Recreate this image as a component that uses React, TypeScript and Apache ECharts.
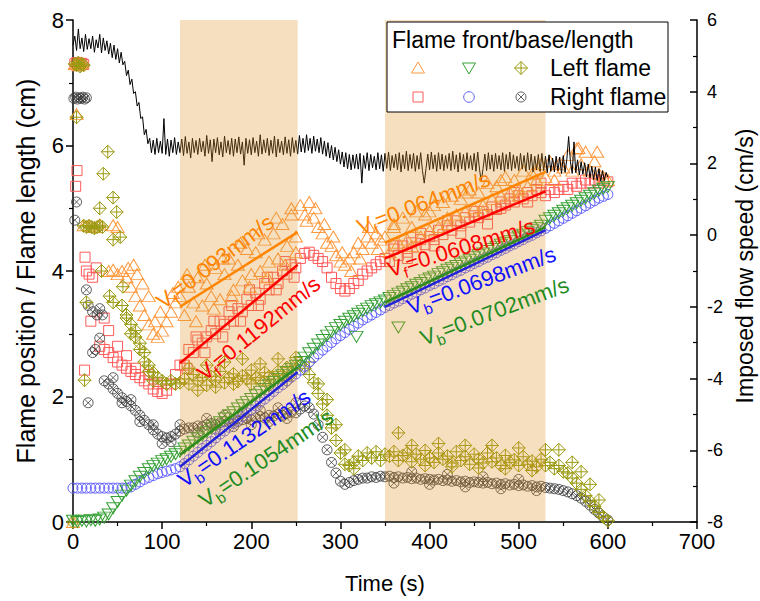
import { useEffect, useRef } from 'react';
import * as echarts from 'echarts';

const FONT = 'Arial, "Liberation Sans", Helvetica, sans-serif';

// ---------- axis settings ----------
const xTicks = { min: 0, max: 700, interval: 100 };
const yLeft = { min: 0, max: 8, interval: 2 };
const yRight = { min: -8, max: 6, interval: 2 };

// ---------- shaded fitting windows (s) ----------
const shadeWindows: [number, number][] = [[120, 252], [350, 530]];

// ---------- Left flame base (green, t = 0..600 step 5) ----------
const leftBaseY = [
  0.02, 0.0, 0.02, 0.01, 0.03, 0.02, 0.04, 0.07, 0.12, 0.22,
  0.32, 0.42, 0.5, 0.58, 0.65, 0.72, 0.78, 0.84, 0.89, 0.93,
  0.97, 1.0, 1.04, 1.08, 1.12, 1.17, 1.22, 1.28, 1.33, 1.38,
  1.43, 1.49, 1.54, 1.59, 1.65, 1.7, 1.75, 1.81, 1.86, 1.91,
  1.96, 2.02, 2.07, 2.12, 2.18, 2.23, 2.28, 2.34, 2.39, 2.44,
  2.49, 2.55, 2.62, 2.69, 2.76, 2.83, 2.9, 2.97, 3.03, 3.09,
  3.14, 3.19, 3.24, 3.28, 3.32, 3.36, 3.4, 3.44, 3.47, 3.5,
  3.53, 3.57, 3.6, 3.64, 3.67, 3.71, 3.74, 3.78, 3.81, 3.85,
  3.88, 3.91, 3.95, 3.98, 4.02, 4.05, 4.08, 4.12, 4.15, 4.18,
  4.22, 4.25, 4.28, 4.32, 4.35, 4.38, 4.42, 4.45, 4.48, 4.52,
  4.55, 4.58, 4.62, 4.65, 4.68, 4.72, 4.8, 4.84, 4.88, 4.92,
  4.96, 5.0, 5.04, 5.08, 5.12, 5.16, 5.2, 5.24, 5.28, 5.31,
  5.34,
];
const leftBaseExtra: [number, number][] = [[318, 2.95], [365, 3.1]];

// ---------- Right flame base (blue, t = 0..600 step 5) ----------
const rightBaseY = [
  0.54, 0.54, 0.54, 0.54, 0.54, 0.54, 0.54, 0.54, 0.54, 0.54,
  0.54, 0.54, 0.54, 0.56, 0.6, 0.64, 0.68, 0.71, 0.74, 0.77,
  0.79, 0.81, 0.83, 0.85, 0.88, 0.93, 0.99, 1.05, 1.11, 1.17,
  1.22, 1.28, 1.34, 1.4, 1.45, 1.51, 1.57, 1.62, 1.68, 1.74,
  1.79, 1.85, 1.91, 1.96, 2.02, 2.08, 2.14, 2.19, 2.25, 2.31,
  2.36, 2.42, 2.48, 2.55, 2.62, 2.68, 2.74, 2.8, 2.86, 2.92,
  2.97, 3.02, 3.07, 3.12, 3.17, 3.22, 3.26, 3.3, 3.34, 3.38,
  3.42, 3.45, 3.49, 3.52, 3.56, 3.59, 3.63, 3.66, 3.7, 3.73,
  3.77, 3.8, 3.84, 3.87, 3.91, 3.94, 3.98, 4.01, 4.05, 4.08,
  4.12, 4.15, 4.19, 4.22, 4.26, 4.29, 4.33, 4.36, 4.4, 4.43,
  4.47, 4.5, 4.54, 4.57, 4.61, 4.64, 4.68, 4.72, 4.76, 4.8,
  4.84, 4.88, 4.92, 4.96, 5.0, 5.04, 5.08, 5.12, 5.16, 5.19,
  5.22,
];

// ---------- Right flame length (dark, t = 35..600 step 5) ----------
const rightLenY = [
  2.25, 2.2, 2.12, 2.05, 1.98, 1.92, 1.85, 1.78, 1.7, 1.62,
  1.55, 1.47, 1.4, 1.36, 1.34, 1.36, 1.4, 1.45, 1.48, 1.5,
  1.5, 1.53, 1.52, 1.55, 1.57, 1.55, 1.58, 1.6, 1.59, 1.62,
  1.6, 1.63, 1.65, 1.63, 1.66, 1.68, 1.66, 1.7, 1.69, 1.72,
  1.7, 1.73, 1.75, 1.74, 1.8, 1.85, 1.82, 1.72, 1.55, 1.35,
  1.15, 0.95, 0.78, 0.65, 0.6, 0.63, 0.66, 0.68, 0.7, 0.7,
  0.72, 0.71, 0.73, 0.72, 0.73, 0.71, 0.72, 0.7, 0.71, 0.69,
  0.7, 0.68, 0.69, 0.68, 0.67, 0.68, 0.66, 0.67, 0.65, 0.66,
  0.64, 0.65, 0.63, 0.64, 0.63, 0.62, 0.63, 0.61, 0.62, 0.6,
  0.61, 0.59, 0.6, 0.58, 0.59, 0.57, 0.58, 0.56, 0.57, 0.55,
  0.54, 0.53, 0.52, 0.5, 0.48, 0.45, 0.42, 0.38, 0.33, 0.27,
  0.2, 0.14, 0.08, 0.03,
];
const rightLenExtra: [number, number][] = [
  [1, 6.75], [3, 6.77], [5, 6.74], [7, 6.76], [9, 6.75], [11, 6.77], [13, 6.74], [15, 6.76],
  [4, 5.1], [2, 4.81], [15, 3.7], [17, 3.45], [22, 3.35], [27, 3.3], [30, 2.93], [22, 2.7],
  [17, 1.9], [30, 3.4], [33, 3.3], [25, 2.75],
  [45, 2.3], [55, 1.9], [65, 1.95], [75, 1.6], [90, 1.55], [100, 1.25], [110, 1.28], [120, 1.55],
  [140, 1.42], [150, 1.65], [160, 1.48], [170, 1.7], [180, 1.52], [190, 1.75], [200, 1.55],
  [210, 1.78], [220, 1.6], [230, 1.82], [240, 1.65], [250, 1.9],
  [360, 0.62], [380, 0.8], [400, 0.6], [420, 0.76], [440, 0.56], [460, 0.72], [480, 0.53],
  [500, 0.68], [520, 0.5],
];

// ---------- Right flame front (red, t = 30..600 step 5) ----------
const rightFrontY = [
  2.8, 2.75, 2.7, 2.62, 2.55, 2.5, 2.45, 2.4, 2.35, 2.3,
  2.25, 2.2, 2.12, 2.08, 2.05, 2.1, 2.2, 2.35, 2.5, 2.5,
  2.75, 2.7, 2.9, 2.85, 2.95, 3.05, 3.0, 3.2, 3.15, 3.35,
  3.2, 3.4, 3.35, 3.55, 3.45, 3.65, 3.55, 3.8, 3.7, 3.9,
  3.8, 4.0, 3.95, 4.1, 4.05, 4.2, 4.28, 4.3, 4.25, 4.2,
  4.15, 4.05, 3.9, 3.8, 3.72, 3.68, 3.72, 3.8, 3.85, 3.95,
  4.0, 4.05, 4.1, 4.15, 4.2, 4.15, 4.35, 4.25, 4.4, 4.3,
  4.45, 4.38, 4.5, 4.42, 4.55, 4.5, 4.65, 4.58, 4.72, 4.65,
  4.8, 4.72, 4.85, 4.78, 4.88, 4.85, 4.95, 4.9, 5.02, 4.98,
  5.1, 5.05, 5.15, 5.1, 5.2, 5.15, 5.25, 5.2, 5.3, 5.25,
  5.2, 5.3, 5.25, 5.3, 5.35, 5.3, 5.4, 5.35, 5.4, 5.45,
  5.4, 5.45, 5.4, 5.45, 5.42,
];
const rightFrontExtra: [number, number][] = [
  [2, 7.3], [4, 7.32], [6, 7.28], [8, 7.3], [10, 7.31], [12, 7.29], [3, 5.35], [4.5, 5.6],
  [13.5, 4.22], [15, 4.0], [18, 3.95], [22, 3.9], [26, 4.05], [20, 3.2], [35, 3.25], [13, 2.42],
  [40, 3.05], [50, 2.8], [60, 2.65], [70, 2.45], [85, 2.35], [95, 2.2],
  [128, 2.45], [138, 2.95], [148, 2.7], [158, 3.2], [168, 2.95], [178, 3.45], [188, 3.2],
  [198, 3.7], [208, 3.45], [218, 3.9], [228, 3.7], [238, 4.15], [248, 3.9],
  [360, 4.4], [375, 4.2], [390, 4.6], [405, 4.4], [420, 4.8], [435, 4.6], [450, 4.95],
  [465, 4.75], [480, 5.0], [495, 5.25], [510, 5.1], [525, 5.4],
];

// ---------- Left flame length (olive, t = 55..600 step 5) ----------
const leftLenY = [
  3.45, 3.3, 3.15, 3.05, 2.85, 2.7, 2.5, 2.38, 2.3, 2.25,
  2.2, 2.25, 2.2, 2.22, 2.28, 2.2, 2.35, 2.25, 2.3, 2.18,
  2.32, 2.26, 2.4, 2.22, 2.3, 2.36, 2.24, 2.33, 2.28, 2.42,
  2.3, 2.26, 2.38, 2.32, 2.28, 2.4, 2.34, 2.46, 2.36, 2.5,
  2.5, 2.45, 2.35, 2.22, 2.05, 1.88, 1.7, 1.5, 1.3, 1.1,
  0.92, 0.9, 0.95, 1.05, 0.98, 1.1, 1.02, 1.12, 0.98, 1.08,
  1.05, 1.12, 0.98, 1.06, 1.1, 0.96, 1.08, 1.0, 1.14, 1.02,
  0.95, 1.1, 1.0, 1.05, 0.94, 1.12, 0.98, 1.04, 0.92, 1.08,
  1.0, 0.94, 1.1, 0.96, 1.02, 0.9, 1.06, 0.95, 0.99, 0.9,
  1.04, 0.92, 0.97, 0.88, 1.0, 0.9, 0.95, 0.85, 0.9, 0.8,
  0.78, 0.7, 0.62, 0.52, 0.42, 0.33, 0.25, 0.15, 0.08, 0.02,
];
const leftLenExtra: [number, number][] = [
  [0, 0], [2, 7.3], [4, 7.28], [6, 7.32], [8, 7.26], [10, 7.3], [12, 7.28], [4, 6.45],
  [39, 5.9], [34, 5.55], [45, 5.17], [30, 5.0], [49, 4.94], [12, 4.72], [15, 4.7], [18, 4.72],
  [21, 4.7], [24, 4.68], [27, 4.7], [30, 4.72], [33, 4.7], [45, 4.5], [53, 4.54], [32, 4.0],
  [15, 3.5], [41, 3.6], [56, 3.75], [13, 2.26], [45, 3.5], [60, 3.25], [65, 3.0], [70, 2.95],
  [75, 2.75], [80, 2.55], [85, 2.4], [90, 2.25],
  [130, 2.45], [140, 2.1], [150, 2.5], [160, 2.15], [170, 2.55], [180, 2.2], [190, 2.6],
  [200, 2.2], [210, 2.52], [220, 2.18], [230, 2.6], [240, 2.25], [250, 2.62],
  [265, 2.55], [275, 2.2], [285, 1.95], [295, 1.55], [305, 1.15], [315, 0.85],
  [365, 1.42], [380, 1.22], [395, 0.9], [410, 1.25], [425, 0.88], [440, 1.22], [455, 0.86],
  [470, 1.22], [485, 0.85], [500, 1.18], [515, 0.82], [530, 1.15], [545, 1.15], [560, 0.95],
  [570, 0.8], [580, 0.6], [590, 0.35],
];

// ---------- Left flame front (orange, t = 55..600 step 5) ----------
const leftFrontY = [
  4.0, 3.9, 3.75, 3.6, 3.45, 3.3, 3.15, 3.0, 2.95, 3.05,
  3.2, 3.35, 3.5, 3.6, 3.3, 3.75, 3.5, 3.9, 3.45, 3.8,
  3.6, 4.05, 3.55, 3.95, 4.2, 3.7, 4.1, 3.85, 4.35, 3.95,
  4.3, 4.0, 4.5, 4.15, 4.6, 4.2, 4.75, 4.4, 4.9, 4.55,
  5.05, 4.9, 5.1, 4.85, 4.7, 4.6, 4.45, 4.4, 4.25, 4.15,
  4.1, 4.2, 4.3, 4.45, 4.35, 4.55, 4.45, 4.6, 4.5, 4.55,
  4.3, 4.75, 4.45, 4.85, 4.5, 4.7, 4.95, 4.55, 4.9, 4.65,
  5.05, 4.7, 5.1, 4.85, 5.2, 4.9, 5.15, 4.95, 5.3, 5.0,
  5.25, 5.05, 5.4, 5.15, 5.35, 5.2, 5.5, 5.25, 5.45, 5.3,
  5.6, 5.35, 5.55, 5.45, 5.7, 5.5, 5.75, 5.6, 5.7, 5.65,
  5.85, 5.6, 5.95, 5.7, 5.9, 5.6, 5.75, 5.55, 5.5, 5.45,
];
const leftFrontExtra: [number, number][] = [
  [0, 0], [2, 7.3], [4, 7.3], [6, 7.28], [8, 7.3], [10, 7.32], [4, 6.5], [12, 4.73], [18, 4.72],
  [24, 4.7], [30, 4.74], [45, 4.73], [50, 4.7], [40, 4.0], [45, 4.02], [50, 3.95], [62, 4.05],
  [68, 4.1], [72, 3.95], [78, 3.8], [85, 3.6], [92, 3.2], [98, 3.35], [112, 3.65], [118, 3.75],
  [128, 3.95], [138, 3.2], [148, 4.1], [158, 3.4], [168, 4.2], [178, 3.6], [188, 4.45],
  [198, 3.75], [208, 4.6], [218, 3.9], [228, 4.85], [238, 4.1], [245, 5.0], [250, 4.3],
  [262, 4.8], [272, 5.0], [282, 4.75], [292, 4.55], [302, 4.3], [312, 4.0], [322, 4.2],
  [332, 4.7], [342, 4.35], [360, 4.7], [380, 4.4], [400, 4.95], [420, 4.75], [440, 5.25],
  [460, 4.95], [480, 5.45], [500, 5.2], [520, 5.6], [540, 5.45], [567, 5.96], [588, 5.9],
];

// ---------- Imposed flow speed (cm/s, right axis, t = 0..600 step 2) ----------
const flowY = [
  5.3, 5.55, 5.15, 5.75, 5.2, 5.5, 5.12, 5.6, 5.18, 5.48,
  5.2, 5.55, 5.1, 5.45, 5.22, 5.6, 5.08, 5.5, 5.15, 5.42,
  5.05, 5.35, 4.95, 5.3, 4.9, 5.2, 4.8, 5.1, 4.75, 4.85,
  4.45, 4.6, 4.2, 4.35, 3.95, 4.0, 3.6, 3.7, 3.25, 3.3,
  2.8, 2.95, 2.55, 2.7, 2.3, 2.65, 2.25, 2.7, 2.3, 2.62,
  2.28, 3.25, 2.25, 2.68, 2.2, 2.65, 2.3, 2.72, 2.25, 2.6,
  2.3, 2.68, 2.22, 2.75, 2.28, 2.6, 2.15, 2.7, 2.3, 2.64,
  2.25, 2.7, 2.32, 2.62, 2.2, 2.78, 2.28, 2.66, 2.05, 2.68,
  2.3, 2.72, 2.24, 2.6, 2.18, 2.76, 2.3, 2.64, 2.25, 2.7,
  2.2, 2.68, 2.3, 2.74, 2.26, 2.6, 1.95, 2.7, 2.28, 2.66,
  2.24, 2.72, 2.3, 2.62, 2.2, 2.8, 2.26, 2.66, 2.3, 2.7,
  2.22, 2.65, 2.28, 2.76, 2.18, 2.68, 2.3, 2.62, 2.24, 2.74,
  2.28, 2.66, 2.2, 2.72, 2.3, 2.64, 2.26, 2.78, 2.32, 2.7,
  2.3, 2.8, 2.36, 2.7, 2.28, 2.76, 2.34, 2.68, 2.3, 2.72,
  2.26, 2.62, 2.2, 2.58, 2.15, 2.5, 2.1, 2.45, 2.05, 2.38,
  1.98, 2.32, 1.9, 2.3, 1.85, 2.25, 1.82, 2.24, 1.86, 2.26,
  1.84, 2.28, 1.45, 2.22, 1.86, 2.3, 1.8, 2.25, 1.88, 2.2,
  1.82, 2.3, 1.85, 2.24, 1.78, 2.28, 1.86, 2.32, 1.8, 2.22,
  1.88, 2.26, 1.82, 2.3, 1.76, 2.24, 1.85, 2.34, 1.8, 2.25,
  1.86, 2.28, 1.78, 2.22, 1.84, 2.3, 1.8, 1.45, 1.86, 2.26,
  1.82, 2.32, 1.85, 2.24, 1.78, 2.3, 1.84, 2.26, 1.8, 2.22,
  1.86, 2.28, 1.8, 2.34, 1.84, 2.24, 1.76, 2.3, 1.85, 2.25,
  1.8, 2.3, 1.86, 2.22, 1.82, 2.28, 1.78, 2.32, 1.84, 1.5,
  1.86, 2.26, 1.8, 2.3, 1.84, 2.24, 1.78, 2.28, 1.85, 2.22,
  1.82, 2.3, 1.78, 2.25, 1.84, 2.32, 1.8, 2.24, 1.86, 2.2,
  1.8, 2.28, 1.84, 2.22, 1.78, 2.3, 1.82, 2.26, 1.76, 2.2,
  1.82, 2.25, 1.78, 2.28, 1.8, 2.2, 1.74, 2.24, 1.78, 2.15,
  1.76, 2.2, 1.8, 2.18, 1.72, 2.22, 1.75, 2.12, 2.75, 2.05,
  1.72, 2.6, 1.74, 2.1, 1.68, 2.05, 1.7, 2.02, 1.62, 1.98,
  1.6, 1.92, 1.55, 1.9, 1.52, 1.85, 1.5, 1.8, 1.52, 1.75,
  1.62,
];

// ---------- linear fits (endpoints, cm) ----------
const fitLeftFront1: [number, number][] = [[120, 3.43], [252, 4.62]];
const fitRightFront1: [number, number][] = [[120, 2.53], [252, 4.1]];
const fitRightBase1: [number, number][] = [[120, 0.88], [252, 2.39]];
const fitLeftBase1: [number, number][] = [[120, 1.07], [252, 2.47]];
const fitLeftFront2: [number, number][] = [[350, 4.45], [530, 5.58]];
const fitRightFront2: [number, number][] = [[350, 4.2], [530, 5.27]];
const fitRightBase2: [number, number][] = [[350, 3.43], [530, 4.65]];
const fitLeftBase2: [number, number][] = [[350, 3.5], [530, 4.7]];

// ---------- fit labels ----------
const fitLabelSub = ['f', 'f', 'b', 'b', 'f', 'f', 'b', 'b'];
const fitLabelText = [
  '=0.093mm/s', '=0.1192mm/s', '=0.1132mm/s', '=0.1054mm/s',
  '=0.064mm/s', '=0.0608mm/s', '=0.0698mm/s', '=0.0702mm/s',
];

const C = {
  orange: '#FF9A40',
  green: '#35A035',
  olive: '#9A9A10',
  red: '#FF5A5A',
  blue: '#5A5AFF',
  dark: '#383838',
  fitOrange: '#FF8400',
  fitRed: '#FF0000',
  fitBlue: '#2323D8',
  fitGreen: '#2E8B1E',
  txtOrange: '#FF8400',
  txtRed: '#FF0000',
  txtBlue: '#1010FF',
  txtGreen: '#1E8C1E',
};

const seq = (t0: number, step: number, ys: number[]) => ys.map((y, i) => [t0 + i * step, y]);

const SYM_DIAMOND = 'path://M0,-10L10,0L0,10L-10,0Z M0,-10L0,10 M-10,0L10,0';
const SYM_CIRCLEX =
  'path://M10,0A10,10 0 1 1 -10,0A10,10 0 1 1 10,0Z M-7.07,-7.07L7.07,7.07 M-7.07,7.07L7.07,-7.07';

function scatter(name: string, data: number[][], symbol: string, size: any, color: string, z: number, rotate = 0, bw = 1) {
  return {
    name,
    type: 'scatter',
    data,
    symbol,
    symbolSize: size,
    symbolRotate: rotate,
    z,
    silent: true,
    itemStyle: { color: 'rgba(0,0,0,0)', borderColor: color, borderWidth: bw, opacity: 1 },
    emphasis: { disabled: true },
  };
}

function fitLine(data: [number, number][], color: string) {
  return {
    type: 'line',
    data,
    symbol: 'none',
    z: 55,
    silent: true,
    lineStyle: { color, width: 2.5 },
    emphasis: { disabled: true },
  };
}

export default function App() {
  const ref = useRef<HTMLDivElement>(null);
  useEffect(() => {
    const chart = echarts.init(ref.current!, null, { renderer: 'svg' });
    const axisLine = { show: true, lineStyle: { color: '#000', width: 1.5 } };
    const option: any = {
      animation: false,
      textStyle: { fontFamily: FONT },
      grid: { left: 73, right: 63, top: 20, bottom: 79, containLabel: false, outerBoundsMode: 'none' },
      xAxis: {
        type: 'value',
        ...xTicks,
        axisLine,
        axisTick: { show: true, inside: false, length: 7, lineStyle: { color: '#000', width: 1.5 } },
        minorTick: { show: true, splitNumber: 2, length: 4, lineStyle: { color: '#000', width: 1.2 } },
        axisLabel: { fontSize: 22, color: '#000', margin: 8, fontFamily: FONT },
        splitLine: { show: false },
        name: 'Time (s)',
        nameLocation: 'middle',
        nameGap: 50,
        nameTextStyle: { fontSize: 22, color: '#000', fontFamily: FONT },
      },
      yAxis: [
        {
          type: 'value',
          ...yLeft,
          position: 'left',
          axisLine,
          axisTick: { show: true, inside: false, length: 7, lineStyle: { color: '#000', width: 1.5 } },
          minorTick: { show: true, splitNumber: 2, length: 4, lineStyle: { color: '#000', width: 1.2 } },
          axisLabel: { fontSize: 22, color: '#000', margin: 9, fontFamily: FONT },
          splitLine: { show: false },
          name: 'Flame position / Flame length (cm)',
          nameLocation: 'middle',
          nameGap: 35,
          nameRotate: 90,
          nameTextStyle: { fontSize: 25, color: '#000', fontFamily: FONT },
        },
        {
          type: 'value',
          ...yRight,
          position: 'right',
          axisLine,
          axisTick: { show: true, inside: true, length: 7, lineStyle: { color: '#000', width: 1.5 } },
          minorTick: { show: true, splitNumber: 2, length: 4, lineStyle: { color: '#000', width: 1.2 } },
          axisLabel: { fontSize: 18, color: '#000', margin: 10, fontFamily: FONT },
          splitLine: { show: false },
          name: 'Imposed flow speed (cm/s)',
          nameLocation: 'middle',
          nameGap: 36,
          nameRotate: 90,
          nameTextStyle: { fontSize: 23, color: '#000', fontFamily: FONT, padding: [0, 0, 0, 10] },
        },
      ],
      series: [
        scatter('Right front', [...seq(30, 5, rightFrontY), ...rightFrontExtra], 'rect', 10, C.red, 3),
        scatter('Left front', [...seq(55, 5, leftFrontY), ...leftFrontExtra], 'triangle', [13, 11], C.orange, 4),
        scatter('Right length', [...seq(35, 5, rightLenY), ...rightLenExtra], SYM_CIRCLEX, 10, C.dark, 5, 0, 0.8),
        scatter('Left length', [...seq(55, 5, leftLenY), ...leftLenExtra], SYM_DIAMOND, 13, C.olive, 6),
        scatter('Right base', seq(0, 5, rightBaseY), 'circle', 10, C.blue, 7),
        scatter('Left base', [...seq(0, 5, leftBaseY), ...leftBaseExtra], 'triangle', [13, 11], C.green, 8, 180),
        {
          type: 'line',
          yAxisIndex: 1,
          data: seq(0, 2, flowY),
          symbol: 'none',
          z: 20,
          silent: true,
          lineStyle: { color: '#000', width: 1 },
          emphasis: { disabled: true },
        },
        fitLine(fitLeftFront1, C.fitOrange),
        fitLine(fitRightFront1, C.fitRed),
        fitLine(fitRightBase1, C.fitBlue),
        fitLine(fitLeftBase1, C.fitGreen),
        fitLine(fitLeftFront2, C.fitOrange),
        fitLine(fitRightFront2, C.fitRed),
        fitLine(fitRightBase2, C.fitBlue),
        fitLine(fitLeftBase2, C.fitGreen),
      ],
    };
    chart.setOption(option);

    // shaded windows (semi-transparent overlay), positioned through the axes
    const shades = shadeWindows.map(([a, b]) => {
      const p1 = chart.convertToPixel({ xAxisIndex: 0, yAxisIndex: 0 }, [a, yLeft.max]) as number[];
      const p2 = chart.convertToPixel({ xAxisIndex: 0, yAxisIndex: 0 }, [b, yLeft.min]) as number[];
      return {
        type: 'rect',
        z: 50,
        silent: true,
        shape: { x: p1[0], y: p1[1], width: p2[0] - p1[0], height: p2[1] - p1[1] - 1 },
        style: { fill: 'rgba(222,150,40,0.3)' },
      };
    });

    const labelPos = [
      [159, 304, 37, C.txtOrange],
      [200, 376, 39, C.txtRed],
      [180, 482, 34.4, C.txtBlue],
      [201, 502, 34, C.txtGreen],
      [358, 228, 21, C.txtOrange],
      [388, 270, 17, C.txtRed],
      [408, 308, 20.5, C.txtBlue],
      [421, 339, 20.6, C.txtGreen],
    ];
    const labels = labelPos.map(([x, y, deg, col], i) => ({
      type: 'text',
      x,
      y,
      rotation: ((deg as number) * Math.PI) / 180,
      z: 60,
      silent: true,
      style: {
        text: `{v|V}{s|${fitLabelSub[i]}}{v|${fitLabelText[i]}}`,
        fill: col,
        align: 'left',
        verticalAlign: 'middle',
        textAlign: 'left',
        textVerticalAlign: 'middle',
        rich: {
          v: { fontSize: 22, lineHeight: 30, fill: col, fontFamily: FONT },
          s: { fontSize: 15, lineHeight: 14, verticalAlign: 'bottom', fill: col, fontFamily: FONT },
        },
      },
    }));

    const lx = 418, lx2 = 469, lx3 = 521, ly1 = 68, ly2 = 97;
    const legend: any[] = [
      { type: 'rect', z: 70, shape: { x: 387, y: 22, width: 281, height: 90 }, style: { fill: '#fff', stroke: '#000', lineWidth: 1 } },
      { type: 'text', z: 71, x: 392, y: 40, style: { text: 'Flame front/base/length', fontSize: 23, fontFamily: FONT, fill: '#000', align: 'left', verticalAlign: 'middle', textAlign: 'left', textVerticalAlign: 'middle' } },
      { type: 'text', z: 71, x: 550, y: ly1, style: { text: 'Left flame', fontSize: 23, fontFamily: FONT, fill: '#000', align: 'left', verticalAlign: 'middle', textAlign: 'left', textVerticalAlign: 'middle' } },
      { type: 'text', z: 71, x: 550, y: ly2, style: { text: 'Right flame', fontSize: 23, fontFamily: FONT, fill: '#000', align: 'left', verticalAlign: 'middle', textAlign: 'left', textVerticalAlign: 'middle' } },
      { type: 'polygon', z: 71, shape: { points: [[lx, ly1 - 6], [lx + 6.5, ly1 + 5], [lx - 6.5, ly1 + 5]] }, style: { fill: 'none', stroke: C.orange, lineWidth: 1 } },
      { type: 'polygon', z: 71, shape: { points: [[lx2 - 6.5, ly1 - 5], [lx2 + 6.5, ly1 - 5], [lx2, ly1 + 6]] }, style: { fill: 'none', stroke: C.green, lineWidth: 1 } },
      { type: 'polygon', z: 71, shape: { points: [[lx3, ly1 - 6.5], [lx3 + 6.5, ly1], [lx3, ly1 + 6.5], [lx3 - 6.5, ly1]] }, style: { fill: 'none', stroke: C.olive, lineWidth: 1 } },
      { type: 'line', z: 71, shape: { x1: lx3, y1: ly1 - 6.5, x2: lx3, y2: ly1 + 6.5 }, style: { stroke: C.olive, lineWidth: 1 } },
      { type: 'line', z: 71, shape: { x1: lx3 - 6.5, y1: ly1, x2: lx3 + 6.5, y2: ly1 }, style: { stroke: C.olive, lineWidth: 1 } },
      { type: 'rect', z: 71, shape: { x: lx - 5, y: ly2 - 5, width: 10, height: 10 }, style: { fill: 'none', stroke: C.red, lineWidth: 1 } },
      { type: 'circle', z: 71, shape: { cx: lx2, cy: ly2, r: 5.3 }, style: { fill: 'none', stroke: C.blue, lineWidth: 1 } },
      { type: 'circle', z: 71, shape: { cx: lx3, cy: ly2, r: 5 }, style: { fill: 'none', stroke: C.dark, lineWidth: 0.8 } },
      { type: 'line', z: 71, shape: { x1: lx3 - 3.5, y1: ly2 - 3.5, x2: lx3 + 3.5, y2: ly2 + 3.5 }, style: { stroke: C.dark, lineWidth: 0.8 } },
      { type: 'line', z: 71, shape: { x1: lx3 - 3.5, y1: ly2 + 3.5, x2: lx3 + 3.5, y2: ly2 - 3.5 }, style: { stroke: C.dark, lineWidth: 0.8 } },
    ];

    chart.setOption({ graphic: [...shades, ...labels, ...legend] });
    return () => chart.dispose();
  }, []);
  return (
    <>
      <style>{'html,body{margin:0;padding:0;overflow:hidden;}'}</style>
      <div ref={ref} style={{ position: 'absolute', left: 0, top: 0, width: 760, height: 601, overflow: 'hidden' }} />
    </>
  );
}
